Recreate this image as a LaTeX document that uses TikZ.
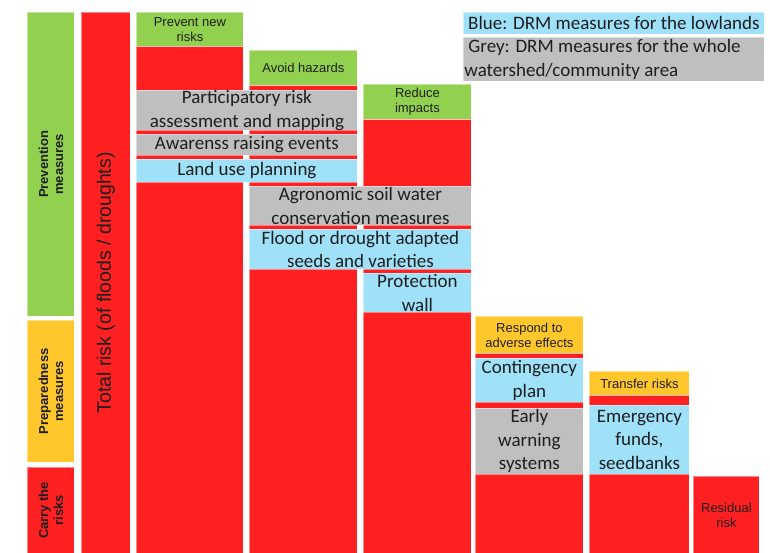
\documentclass[tikz,border=0pt]{standalone}
\usepackage{fontspec}
\setmainfont{Carlito}
\newfontfamily\arialf{Liberation Sans}
\definecolor{rRed}{RGB}{255,33,33}
\definecolor{rGreen}{RGB}{146,208,80}
\definecolor{rYellow}{RGB}{255,199,44}
\definecolor{rBlue}{RGB}{160,225,250}
\definecolor{rGrey}{RGB}{191,191,191}
\definecolor{rText}{RGB}{30,30,30}
\tikzset{
  box/.style={draw=white, draw opacity=0.45, line width=0.8pt, inner sep=0pt, anchor=north west, align=center, text=rText},
  redbox/.style={box, fill=rRed},
  greenbox/.style={box, fill=rGreen},
  yellowbox/.style={box, fill=rYellow},
  bluebox/.style={box, fill=rBlue},
  greybox/.style={box, fill=rGrey},
  head/.style={font=\arialf\fontsize{13}{15}\selectfont},
  meas/.style={font=\fontsize{19}{23.5}\selectfont},
  sidelabel/.style={rotate=90, align=center, text=rText, inner sep=0pt, font=\arialf\bfseries\fontsize{13}{15}\selectfont}
}
% name, x1, y1, x2, y2, style, text
\newcommand{\bx}[7]{\node[#6, minimum width={(#4-#2)*1pt}, minimum height={(#5-#3)*1pt}] (#1) at (#2pt,-#3pt) {#7};}
\begin{document}
\begin{tikzpicture}
\useasboundingbox (0,0) rectangle (770pt,-553pt);
% left category column
\bx{prev}{27}{12}{74}{316}{greenbox}{}
\bx{prep}{27}{320}{74}{462}{yellowbox}{}
\bx{carry}{27}{467}{74}{553}{redbox}{}
\node[sidelabel] (prevT) at (prev.center) {Prevention\\measures};
\node[sidelabel] (prepT) at (prep.center) {Preparedness\\measures};
\node[sidelabel] (carryT) at (carry.center) {Carry the\\risks};
% total risk
\bx{total}{81}{12}{130}{553}{redbox}{}
\node[rotate=90, inner sep=0pt, text=rText, font=\arialf\fontsize{19.5}{22}\selectfont] (totalT) at (total.center) {Total risk (of floods / droughts)};
% columns: red backgrounds
\bx{c1r}{136}{46}{243}{553}{redbox}{}
\bx{c2r}{249}{85}{357}{553}{redbox}{}
\bx{c3r}{363}{119}{471}{553}{redbox}{}
\bx{c4r}{475}{353}{583}{553}{redbox}{}
\bx{c5r}{589}{395}{689}{553}{redbox}{}
\bx{c6r}{693}{476}{759}{553}{redbox,head}{Residual\\risk}
% headers
\bx{c1h}{136}{12}{243}{46}{greenbox,head}{Prevent new\\risks}
\bx{c2h}{249}{50}{357}{85}{greenbox,head}{Avoid hazards}
\bx{c3h}{363}{84}{471}{119}{greenbox,head}{Reduce\\impacts}
\bx{c4h}{475}{316}{583}{353}{yellowbox,head}{Respond to\\adverse effects}
\bx{c5h}{589}{371}{689}{395}{yellowbox,head}{Transfer risks}
% measures
\bx{m1}{136}{90}{357}{129}{greybox,meas}{Participatory risk\\assessment and mapping}
\bx{m2}{136}{134}{357}{155}{greybox,meas}{Awarenss raising events}
\bx{m3}{136}{159}{357}{182}{bluebox,meas}{Land use planning}
\bx{m4}{249}{186}{471}{225}{greybox,meas}{Agronomic soil water\\conservation measures}
\bx{m5}{249}{229}{471}{269}{bluebox,meas}{Flood or drought adapted\\seeds and varieties}
\bx{m6}{363}{273}{471}{312}{bluebox,meas}{Protection\\wall}
\bx{m7}{475}{358}{583}{402}{bluebox,meas}{Contingency\\plan}
\bx{m8}{475}{408}{583}{474}{greybox,meas}{Early\\warning\\systems}
\bx{m9}{589}{405}{689}{474}{bluebox,meas}{Emergency\\funds,\\seedbanks}
% legend
\bx{legB}{463}{12}{764}{34}{bluebox,meas}{Blue: DRM measures for the lowlands}
\bx{legG}{463}{37}{764}{81}{greybox,meas,align=flush left,text width=299pt,inner xsep=1pt}{\hspace*{4pt}Grey: DRM measures for the whole\\watershed/community area}
\end{tikzpicture}
\end{document}
